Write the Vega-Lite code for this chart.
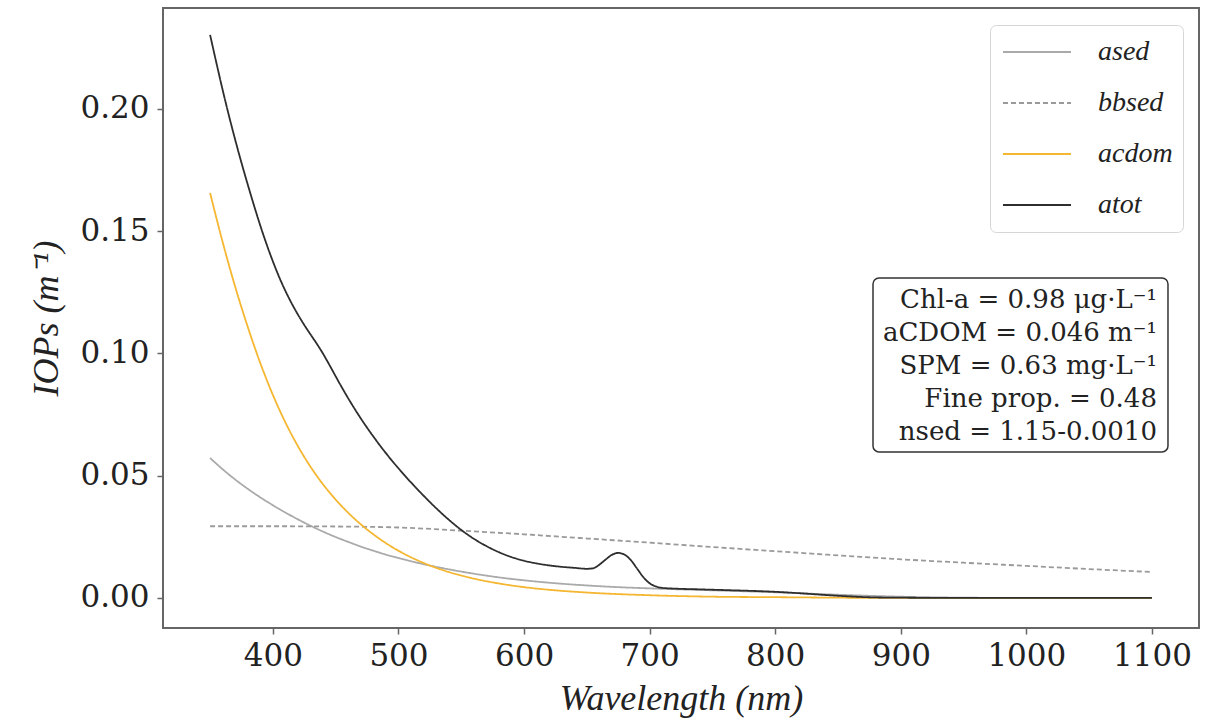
{
  "$schema": "https://vega.github.io/schema/vega-lite/v6.json",
  "width": 1036,
  "height": 620,
  "autosize": {"type": "none"},
  "padding": {"left": 163, "top": 8, "right": 22, "bottom": 92},
  "background": "white",
  "config": {
    "view": {"stroke": "#666666", "strokeWidth": 2},
    "axis": {
      "grid": false,
      "domain": false,
      "tickColor": "#666666",
      "tickWidth": 1.5,
      "tickSize": 6,
      "labelFont": "DejaVu Serif",
      "labelFontSize": 31,
      "labelColor": "#222222",
      "titleFont": "Liberation Serif",
      "titleFontStyle": "italic",
      "titleFontWeight": "normal",
      "titleFontSize": 36,
      "titleColor": "#222222"
    },
    "legend": {
      "symbolType": "stroke",
      "symbolSize": 4624,
      "symbolStrokeWidth": 2,
      "labelFont": "Liberation Serif",
      "labelFontStyle": "italic",
      "labelFontSize": 28,
      "labelColor": "#222222",
      "fillColor": "white",
      "strokeColor": "#d5d5d5",
      "cornerRadius": 6,
      "padding": 10,
      "rowPadding": 17,
      "clipHeight": 34,
      "labelOffset": 26,
      "symbolOffset": 2
    }
  },
  "datasets": {
    "curves": [
      {"wl": 350, "series": "ased", "v": 0.0572},
      {"wl": 360, "series": "ased", "v": 0.0526},
      {"wl": 370, "series": "ased", "v": 0.0484},
      {"wl": 380, "series": "ased", "v": 0.0446},
      {"wl": 390, "series": "ased", "v": 0.0411},
      {"wl": 400, "series": "ased", "v": 0.0379},
      {"wl": 410, "series": "ased", "v": 0.0349},
      {"wl": 420, "series": "ased", "v": 0.0321},
      {"wl": 430, "series": "ased", "v": 0.0295},
      {"wl": 440, "series": "ased", "v": 0.0271},
      {"wl": 450, "series": "ased", "v": 0.0249},
      {"wl": 460, "series": "ased", "v": 0.0229},
      {"wl": 470, "series": "ased", "v": 0.0210},
      {"wl": 480, "series": "ased", "v": 0.0193},
      {"wl": 490, "series": "ased", "v": 0.0177},
      {"wl": 500, "series": "ased", "v": 0.0163},
      {"wl": 520, "series": "ased", "v": 0.0138},
      {"wl": 540, "series": "ased", "v": 0.0117},
      {"wl": 560, "series": "ased", "v": 0.0099},
      {"wl": 580, "series": "ased", "v": 0.0084},
      {"wl": 600, "series": "ased", "v": 0.0072},
      {"wl": 625, "series": "ased", "v": 0.0060},
      {"wl": 650, "series": "ased", "v": 0.0051},
      {"wl": 675, "series": "ased", "v": 0.0044},
      {"wl": 700, "series": "ased", "v": 0.0039},
      {"wl": 750, "series": "ased", "v": 0.0031},
      {"wl": 800, "series": "ased", "v": 0.0023},
      {"wl": 850, "series": "ased", "v": 0.0013},
      {"wl": 900, "series": "ased", "v": 0.0005},
      {"wl": 950, "series": "ased", "v": 0.0001},
      {"wl": 1000, "series": "ased", "v": 0.0},
      {"wl": 1100, "series": "ased", "v": 0.0},

      {"wl": 350, "series": "bbsed", "v": 0.0293},
      {"wl": 400, "series": "bbsed", "v": 0.0293},
      {"wl": 450, "series": "bbsed", "v": 0.0292},
      {"wl": 500, "series": "bbsed", "v": 0.0288},
      {"wl": 550, "series": "bbsed", "v": 0.0275},
      {"wl": 600, "series": "bbsed", "v": 0.0260},
      {"wl": 650, "series": "bbsed", "v": 0.0243},
      {"wl": 700, "series": "bbsed", "v": 0.0226},
      {"wl": 750, "series": "bbsed", "v": 0.0208},
      {"wl": 800, "series": "bbsed", "v": 0.0191},
      {"wl": 850, "series": "bbsed", "v": 0.0174},
      {"wl": 900, "series": "bbsed", "v": 0.0158},
      {"wl": 950, "series": "bbsed", "v": 0.0144},
      {"wl": 1000, "series": "bbsed", "v": 0.0131},
      {"wl": 1050, "series": "bbsed", "v": 0.0118},
      {"wl": 1100, "series": "bbsed", "v": 0.0106},

      {"wl": 350, "series": "acdom", "v": 0.1656},
      {"wl": 360, "series": "acdom", "v": 0.1455},
      {"wl": 370, "series": "acdom", "v": 0.1272},
      {"wl": 380, "series": "acdom", "v": 0.1108},
      {"wl": 390, "series": "acdom", "v": 0.0960},
      {"wl": 400, "series": "acdom", "v": 0.0830},
      {"wl": 410, "series": "acdom", "v": 0.0717},
      {"wl": 420, "series": "acdom", "v": 0.0620},
      {"wl": 430, "series": "acdom", "v": 0.0536},
      {"wl": 440, "series": "acdom", "v": 0.0464},
      {"wl": 450, "series": "acdom", "v": 0.0402},
      {"wl": 460, "series": "acdom", "v": 0.0348},
      {"wl": 470, "series": "acdom", "v": 0.0301},
      {"wl": 480, "series": "acdom", "v": 0.0260},
      {"wl": 490, "series": "acdom", "v": 0.0224},
      {"wl": 500, "series": "acdom", "v": 0.0193},
      {"wl": 510, "series": "acdom", "v": 0.0166},
      {"wl": 520, "series": "acdom", "v": 0.0143},
      {"wl": 540, "series": "acdom", "v": 0.0106},
      {"wl": 560, "series": "acdom", "v": 0.0079},
      {"wl": 580, "series": "acdom", "v": 0.0059},
      {"wl": 600, "series": "acdom", "v": 0.0044},
      {"wl": 625, "series": "acdom", "v": 0.0031},
      {"wl": 650, "series": "acdom", "v": 0.0022},
      {"wl": 700, "series": "acdom", "v": 0.0011},
      {"wl": 750, "series": "acdom", "v": 0.0005},
      {"wl": 800, "series": "acdom", "v": 0.0003},
      {"wl": 850, "series": "acdom", "v": 0.0001},
      {"wl": 900, "series": "acdom", "v": 0.0},
      {"wl": 1000, "series": "acdom", "v": 0.0},
      {"wl": 1100, "series": "acdom", "v": 0.0},

      {"wl": 350, "series": "atot", "v": 0.2302},
      {"wl": 355, "series": "atot", "v": 0.2188},
      {"wl": 360, "series": "atot", "v": 0.2077},
      {"wl": 365, "series": "atot", "v": 0.1972},
      {"wl": 370, "series": "atot", "v": 0.1873},
      {"wl": 375, "series": "atot", "v": 0.1779},
      {"wl": 380, "series": "atot", "v": 0.1690},
      {"wl": 385, "series": "atot", "v": 0.1604},
      {"wl": 390, "series": "atot", "v": 0.1522},
      {"wl": 395, "series": "atot", "v": 0.1446},
      {"wl": 400, "series": "atot", "v": 0.1376},
      {"wl": 405, "series": "atot", "v": 0.1312},
      {"wl": 410, "series": "atot", "v": 0.1255},
      {"wl": 415, "series": "atot", "v": 0.1204},
      {"wl": 420, "series": "atot", "v": 0.1158},
      {"wl": 425, "series": "atot", "v": 0.1116},
      {"wl": 430, "series": "atot", "v": 0.1077},
      {"wl": 435, "series": "atot", "v": 0.1039},
      {"wl": 440, "series": "atot", "v": 0.0998},
      {"wl": 445, "series": "atot", "v": 0.0953},
      {"wl": 450, "series": "atot", "v": 0.0906},
      {"wl": 455, "series": "atot", "v": 0.0860},
      {"wl": 460, "series": "atot", "v": 0.0816},
      {"wl": 465, "series": "atot", "v": 0.0774},
      {"wl": 470, "series": "atot", "v": 0.0734},
      {"wl": 475, "series": "atot", "v": 0.0696},
      {"wl": 480, "series": "atot", "v": 0.0660},
      {"wl": 485, "series": "atot", "v": 0.0625},
      {"wl": 490, "series": "atot", "v": 0.0592},
      {"wl": 495, "series": "atot", "v": 0.0560},
      {"wl": 500, "series": "atot", "v": 0.0530},
      {"wl": 510, "series": "atot", "v": 0.0472},
      {"wl": 520, "series": "atot", "v": 0.0418},
      {"wl": 530, "series": "atot", "v": 0.0367},
      {"wl": 540, "series": "atot", "v": 0.0320},
      {"wl": 550, "series": "atot", "v": 0.0278},
      {"wl": 560, "series": "atot", "v": 0.0242},
      {"wl": 570, "series": "atot", "v": 0.0212},
      {"wl": 580, "series": "atot", "v": 0.0187},
      {"wl": 590, "series": "atot", "v": 0.0167},
      {"wl": 600, "series": "atot", "v": 0.0152},
      {"wl": 610, "series": "atot", "v": 0.0141},
      {"wl": 620, "series": "atot", "v": 0.0133},
      {"wl": 630, "series": "atot", "v": 0.0127},
      {"wl": 640, "series": "atot", "v": 0.0123},
      {"wl": 650, "series": "atot", "v": 0.0119},
      {"wl": 655, "series": "atot", "v": 0.0121},
      {"wl": 660, "series": "atot", "v": 0.0136},
      {"wl": 665, "series": "atot", "v": 0.0157},
      {"wl": 670, "series": "atot", "v": 0.0176},
      {"wl": 675, "series": "atot", "v": 0.0184},
      {"wl": 680, "series": "atot", "v": 0.0177},
      {"wl": 685, "series": "atot", "v": 0.0155},
      {"wl": 690, "series": "atot", "v": 0.0120},
      {"wl": 695, "series": "atot", "v": 0.0085},
      {"wl": 700, "series": "atot", "v": 0.0060},
      {"wl": 705, "series": "atot", "v": 0.0047},
      {"wl": 710, "series": "atot", "v": 0.0041},
      {"wl": 720, "series": "atot", "v": 0.0038},
      {"wl": 740, "series": "atot", "v": 0.0035},
      {"wl": 760, "series": "atot", "v": 0.0032},
      {"wl": 780, "series": "atot", "v": 0.0029},
      {"wl": 800, "series": "atot", "v": 0.0025},
      {"wl": 820, "series": "atot", "v": 0.0019},
      {"wl": 840, "series": "atot", "v": 0.0012},
      {"wl": 860, "series": "atot", "v": 0.0006},
      {"wl": 880, "series": "atot", "v": 0.0002},
      {"wl": 900, "series": "atot", "v": 0.0001},
      {"wl": 950, "series": "atot", "v": 0.0},
      {"wl": 1000, "series": "atot", "v": 0.0},
      {"wl": 1100, "series": "atot", "v": 0.0}
    ],
    "note": [
      {"label": ["Chl-a = 0.98 μg·L⁻¹", "aCDOM = 0.046 m⁻¹", "SPM = 0.63 mg·L⁻¹", "Fine prop. = 0.48", "nsed = 1.15-0.0010"]}
    ],
    "box": [{"k": 1}]
  },
  "layer": [
    {
      "data": {"name": "curves"},
      "mark": {"type": "line", "interpolate": "monotone", "strokeWidth": 1.8},
      "encoding": {
        "x": {
          "field": "wl", "type": "quantitative",
          "scale": {"domain": [312.5, 1137.5], "nice": false, "zero": false},
          "axis": {"title": "Wavelength (nm)", "values": [400, 500, 600, 700, 800, 900, 1000, 1100], "format": "d", "labelPadding": 7, "titlePadding": 10}
        },
        "y": {
          "field": "v", "type": "quantitative",
          "scale": {"domain": [-0.0123, 0.2412], "nice": false, "zero": false},
          "axis": {"title": "IOPs (m⁻¹)", "values": [0, 0.05, 0.1, 0.15, 0.2], "format": ".2f", "labelPadding": 8, "titlePadding": 14}
        },
        "color": {
          "field": "series", "type": "nominal",
          "scale": {"domain": ["ased", "bbsed", "acdom", "atot"], "range": ["#aaaaaa", "#9a9a9a", "#f5b731", "#2e2e2e"]},
          "legend": {"title": null, "orient": "none", "legendX": 827, "legendY": 17}
        },
        "strokeDash": {
          "field": "series", "type": "nominal",
          "scale": {"domain": ["ased", "bbsed", "acdom", "atot"], "range": [[1, 0], [5, 3], [1, 0], [1, 0]]},
          "legend": {"title": null, "orient": "none", "legendX": 827, "legendY": 17}
        }
      }
    },
    {
      "data": {"name": "box"},
      "mark": {"type": "rect", "fill": "white", "stroke": "#333333", "strokeWidth": 1.5, "cornerRadius": 6},
      "encoding": {
        "x": {"datum": 877.9, "type": "quantitative", "scale": {"domain": [312.5, 1137.5], "nice": false, "zero": false}},
        "x2": {"datum": 1112.8},
        "y": {"datum": 0.1308, "type": "quantitative", "scale": {"domain": [-0.0123, 0.2412], "nice": false, "zero": false}},
        "y2": {"datum": 0.0597}
      }
    },
    {
      "data": {"name": "note"},
      "mark": {"type": "text", "align": "right", "baseline": "middle", "font": "DejaVu Serif", "fontSize": 26, "lineHeight": 33, "color": "#222222"},
      "encoding": {
        "x": {"datum": 1104, "type": "quantitative", "scale": {"domain": [312.5, 1137.5], "nice": false, "zero": false}},
        "y": {"datum": 0.1220, "type": "quantitative", "scale": {"domain": [-0.0123, 0.2412], "nice": false, "zero": false}},
        "text": {"field": "label"}
      }
    }
  ]
}
